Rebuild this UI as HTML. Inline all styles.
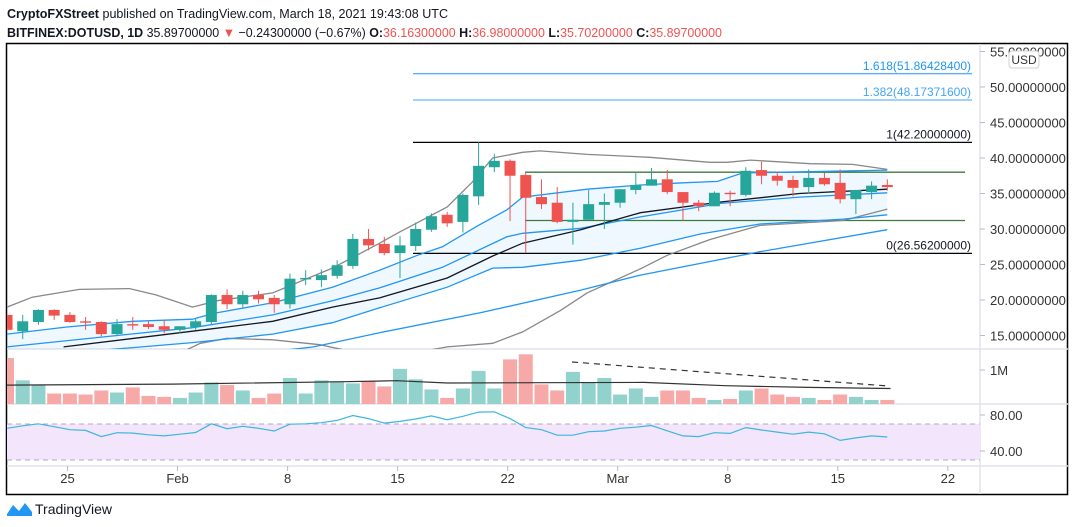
<!DOCTYPE html>
<html><head><meta charset="utf-8"><title>DOTUSD chart</title>
<style>
html,body{margin:0;padding:0;background:#fff;}
svg{display:block;font-family:"Liberation Sans",sans-serif;}
</style></head>
<body>
<svg id="chart" width="1075" height="527" viewBox="0 0 1075 527">
<defs>
<clipPath id="mainClip"><rect x="7" y="44" width="973" height="305"/></clipPath>
<clipPath id="volClip"><rect x="7" y="349" width="973" height="55"/></clipPath>
</defs>
<text x="7" y="18" font-size="13" textLength="441" lengthAdjust="spacingAndGlyphs" fill="#131722"><tspan font-weight="bold">CryptoFXStreet</tspan> published on TradingView.com, March 18, 2021 19:43:08 UTC</text>
<text x="7" y="37" font-size="13" textLength="715" lengthAdjust="spacingAndGlyphs" fill="#131722"><tspan font-weight="bold">BITFINEX:DOTUSD, 1D</tspan> 35.89700000 <tspan fill="#ef5350">▼</tspan> −0.24300000 (−0.67%) <tspan font-weight="bold">O:</tspan><tspan fill="#ef5350">36.16300000</tspan> <tspan font-weight="bold">H:</tspan><tspan fill="#ef5350">36.98000000</tspan> <tspan font-weight="bold">L:</tspan><tspan fill="#ef5350">35.70200000</tspan> <tspan font-weight="bold">C:</tspan><tspan fill="#ef5350">35.89700000</tspan></text>
<rect x="6.5" y="43.5" width="1061" height="451" fill="none" stroke="#000" stroke-width="1.5"/>
<g id="grid"></g>
<g id="main" clip-path="url(#mainClip)"></g>
<g id="vol" clip-path="url(#volClip)"></g>
<g id="rsi"></g>
<g id="axes"></g>
<g>
<path d="M7 514 L13 505 L19 511 L25 503 L32 512 L32 516 L7 516 Z" fill="#2196f3"/>
<text x="35" y="514" font-size="14" fill="#131722">TradingView</text>
</g>
</svg>
<script>
// ---- data ----
const opens  = [17.9,15.6,16.9,18.6,17.9,17.0,16.9,15.2,16.6,16.6,16.3,15.8,16.2,16.9,20.7,19.4,20.7,20.3,19.4,22.9,22.8,23.4,24.8,28.6,27.9,26.6,27.6,29.9,32.0,31.0,34.6,38.7,39.6,37.6,34.5,33.7,31.0,31.3,33.4,33.7,35.5,36.1,37.0,35.2,33.7,33.2,35.1,34.8,38.3,37.5,36.9,35.9,37.2,36.5,34.2,35.2,36.2];
const highs  = [18.3,17.9,18.7,18.7,18.3,17.6,17.0,17.3,17.6,17.0,17.2,16.3,17.4,20.8,21.5,21.3,21.3,20.7,23.7,24.2,24.3,25.6,29.3,30.0,28.9,29.0,30.9,32.2,32.4,35.0,42.2,40.6,39.8,38.0,37.0,35.9,33.7,35.5,35.0,35.6,38.0,38.6,38.3,35.2,34.1,35.3,35.4,38.7,39.5,38.1,37.5,38.4,37.9,38.4,35.5,36.7,37.0];
const lows   = [15.5,14.5,16.5,17.2,16.8,15.8,14.9,14.9,15.8,15.9,15.3,15.3,15.8,16.6,18.7,18.9,19.5,18.2,18.8,22.1,21.8,23.0,24.4,27.0,26.3,23.1,26.9,29.6,30.3,29.5,33.4,38.0,31.1,26.6,32.8,30.8,27.8,31.3,30.0,33.0,34.9,36.1,34.9,31.2,32.5,33.2,33.2,34.6,36.3,36.1,34.6,35.0,36.1,33.6,32.1,34.2,35.4];
const closes = [15.8,17.0,18.6,17.8,16.9,16.8,15.2,16.6,16.4,16.2,15.8,16.3,17.0,20.7,19.4,20.7,20.1,19.4,23.0,23.1,23.5,24.9,28.6,27.7,26.6,27.7,30.0,31.8,30.8,34.8,38.9,39.6,37.5,34.4,33.5,31.0,31.3,33.5,33.8,35.6,36.2,37.0,35.2,33.7,33.2,35.1,34.9,38.2,37.5,36.8,35.8,37.2,36.3,34.2,35.5,36.1,35.9];
const volumes = [1.36,0.70,0.55,0.31,0.31,0.28,0.40,0.34,0.49,0.24,0.21,0.18,0.34,0.64,0.56,0.40,0.18,0.31,0.77,0.31,0.70,0.67,0.61,0.67,0.52,1.04,0.73,0.43,0.18,0.46,0.98,0.46,1.32,1.47,0.58,0.40,0.95,0.64,0.77,0.28,0.46,0.21,0.40,0.40,0.18,0.12,0.15,0.40,0.46,0.28,0.21,0.18,0.12,0.28,0.21,0.12,0.12];
const rsiValues = [65.2,68,70.2,67,63.7,62.9,56.0,60.3,59.9,58,56.8,58.7,60.6,70.2,64.8,67.5,65.2,62.2,69.8,70.2,71.4,74.0,79.4,76.0,71.0,72.9,75.6,79.0,74.8,78.6,83.2,83.6,76.0,66.0,63.7,57.6,57.6,61.4,62.2,65.2,66.4,68.3,62.5,56.8,56.0,60.3,59.5,66.0,63.3,61.0,58.7,61.0,59.1,51.8,54.5,56.8,55.6];
// indicator lines: [barIndex, value]
const bbUpper = [[0,19.0],[1.6,20.4],[4.6,21.5],[7.8,21.6],[9.5,20.7],[11.8,19.0],[13.4,19.9],[16.9,21.0],[20.7,24.5],[23.7,28.0],[25,29.6],[28,33.1],[29.6,36.6],[30.9,40.0],[32.8,40.8],[33.9,41.0],[36.9,40.5],[40.9,40.1],[44.7,39.4],[45.8,39.4],[47.3,39.7],[51.1,39.2],[53.8,39.1],[56,38.4]];
const bbLower = [[10,11.5],[12.3,13.9],[14,14.6],[16.9,14.4],[19.9,13.7],[21.8,12.8],[26,12.6],[28,13.4],[30.9,13.9],[32.8,15.5],[35.2,18.5],[36.9,21.0],[40.3,24.4],[42,26.3],[44.7,28.5],[47.9,30.5],[53.2,31.2],[56,32.8]];
const bandUpper = [[0,15.2],[3.8,16.2],[8,17.0],[11.8,17.3],[13.1,18.1],[16.9,19.6],[20.7,21.8],[23.7,24.2],[26.1,26.3],[27.7,27.5],[29.9,30.4],[31.8,32.7],[32.8,34.5],[36.9,35.6],[40.3,36.2],[43,36.5],[45.2,36.7],[46.8,37.9],[49.4,38.0],[56,38.3]];
const bandMid = [[0,13.4],[11.8,16.1],[16.9,17.9],[20.7,19.9],[23.7,21.7],[27.7,24.6],[31.8,28.9],[32.8,29.4],[36.5,30.1],[40.3,31.7],[45.4,33.6],[50.4,34.5],[56,35.1]];
const maBlack = [[3.6,13.4],[11.8,15.6],[16.9,17.0],[20.7,19.0],[23.7,20.3],[28,23.1],[30.9,26.2],[32.8,28.0],[36.5,29.9],[40.3,32.3],[45.4,33.8],[50.4,35.0],[56,35.6]];
const bandLower = [[0,11.8],[11.8,14.0],[16.9,15.2],[20.7,16.8],[23.7,18.9],[28,21.8],[30.9,24.5],[32.8,24.6],[36.5,25.6],[40.3,27.3],[44.1,29.3],[47.9,30.7],[53.2,31.4],[56,32.0]];
const maLong = [[12,11.5],[19.5,13.4],[23.7,15.4],[30.1,18.2],[36.5,21.4],[40.3,23.5],[47.9,26.8],[56,29.9]];
const volMA = [[0,0.56],[10.5,0.59],[21.5,0.66],[24.8,0.69],[28,0.62],[33.9,0.63],[40.5,0.64],[45.7,0.54],[51,0.49],[56.2,0.46]];
const priceTicks = [55,50,45,40,35,30,25,20,15];
const timeTicks = [["25",3.85],["Feb",10.85],["8",17.85],["15",24.85],["22",31.85],["Mar",38.85],["8",45.85],["15",52.85],["22",59.85]];
const fibLevels = [[1.618,51.86428400,"#2196f3"],[1.382,48.17371600,"#42a5f5"],[1,42.20000000,"#000"],[0,26.56200000,"#000"]];
const rangeLines = [38.0,31.2];

// ---- axis functions ----
const X = i => 7 + i*15.72;
const Y = p => 158 - (p-40)*7.1;
const VY = v => 404 - v*33.8;
const RY = r => 415 + (80-r)*0.9;
const NS = "http://www.w3.org/2000/svg";
function mk(tag, attrs, parent){
  const e = document.createElementNS(NS, tag);
  for (const k in attrs) e.setAttribute(k, attrs[k]);
  parent.appendChild(e); return e;
}
const gMain = document.getElementById('main');
const gVol = document.getElementById('vol');
const gRsi = document.getElementById('rsi');
const gAx = document.getElementById('axes');
const gGrid = document.getElementById('grid');
const ptsStr = (arr, fy) => arr.map(d => X(d[0]).toFixed(1)+','+fy(d[1]).toFixed(1)).join(' ');

// separators
[349,404,466].forEach(y => {
  const l = mk('line',{x1:7,x2:1068,y1:y,y2:y,stroke:'#e0e3eb','stroke-width':1.5},gGrid);
  
  
});
const vsep = mk('line',{x1:980,x2:980,y1:44,y2:494,stroke:'#e0e3eb','stroke-width':1.5},gGrid);



// band fill
const fillPts = ptsStr(bandUpper, Y) + ' ' + bandLower.slice().reverse().map(d => X(d[0]).toFixed(1)+','+Y(d[1]).toFixed(1)).join(' ');
const bf = mk('polygon',{points:fillPts,fill:'#2196f3','fill-opacity':0.07},gMain);



// fib lines
fibLevels.forEach(f => {
  const y = Y(f[1]);
  const l = mk('line',{x1:413,x2:972,y1:y,y2:y,stroke:f[2],'stroke-width':f[0]>1?1:1.3},gMain);
  
  
  const t = mk('text',{x:971,y:y-4,'font-size':12,'text-anchor':'end',fill:f[2]==='#000'?'#131722':f[2]},gMain);
  t.textContent = f[0] + '(' + f[1].toFixed(8) + ')';
  
  
});
rangeLines.forEach(p => {
  const l = mk('line',{x1:525,x2:965,y1:Y(p),y2:Y(p),stroke:'#3d7a3d','stroke-width':1.3},gMain);
  
  
});

// indicator lines
const lineDefs = [[bbUpper,'#888','bb-upper'],[bbLower,'#888','bb-lower'],[bandUpper,'#2196f3','band-upper'],[bandMid,'#2196f3','band-middle'],[maBlack,'#131722','moving-average'],[bandLower,'#2196f3','band-lower'],[maLong,'#2196f3','long-moving-average']];
lineDefs.forEach(d => {
  const l = mk('polyline',{points:ptsStr(d[0],Y),fill:'none',stroke:d[1],'stroke-width':1.3},gMain);
  
  
});

// candles
for (let i=0;i<opens.length;i++){
  const up = closes[i] >= opens[i];
  const c = up ? '#26a69a' : '#ef5350';
  const x = X(i);
  const g = mk('g',{},gMain);
  
  
  mk('line',{x1:x,x2:x,y1:Y(highs[i]),y2:Y(lows[i]),stroke:c,'stroke-width':1},g);
  const top = Y(Math.max(opens[i],closes[i])), bot = Y(Math.min(opens[i],closes[i]));
  mk('rect',{x:x-5.5,y:top,width:11,height:Math.max(1,bot-top),fill:c},g);
  const vb = mk('rect',{x:x-7,y:VY(volumes[i]),width:14,height:404-VY(volumes[i]),fill:up?'#92d2cc':'#f7a9a7'},gVol);
  
  
}
const vma = mk('polyline',{points:ptsStr(volMA,VY),fill:'none',stroke:'#333','stroke-width':1.2},gVol);


const vtr = mk('line',{x1:572,y1:362,x2:888,y2:386,stroke:'#333','stroke-width':1.2,'stroke-dasharray':'6,5'},gVol);



// RSI
const rb = mk('rect',{x:7,y:RY(70),width:973,height:RY(30)-RY(70),fill:'#f3e5fc'},gRsi);


[70,30].forEach(v => {
  const l = mk('line',{x1:7,x2:980,y1:RY(v),y2:RY(v),stroke:'#b5a8bd','stroke-dasharray':'5,4'},gRsi);
  
  
});
const rl = mk('polyline',{points:rsiValues.map((v,i)=>X(i).toFixed(1)+','+RY(v).toFixed(1)).join(' '),fill:'none',stroke:'#3bb7e0','stroke-width':1.2},gRsi);



// axes
priceTicks.forEach(p => {
  const y = Y(p);
  mk('line',{x1:980,x2:985,y1:y,y2:y,stroke:'#bbb'},gAx);
  const t = mk('text',{x:990,y:y+5,'font-size':13,fill:'#333'},gAx);
  t.textContent = p.toFixed(8);
  
  
});
const usd = mk('rect',{x:1009,y:51,width:30,height:17,rx:3,fill:'#fff',stroke:'#d0d0d0'},gAx);


const ut = mk('text',{x:1024,y:64,'font-size':12,'text-anchor':'middle',fill:'#333'},gAx);
ut.textContent = 'USD';
[[370,'1M'],[415,'80.00'],[451,'40.00']].forEach(d => {
  mk('line',{x1:980,x2:985,y1:d[0],y2:d[0],stroke:'#bbb'},gAx);
  const t = mk('text',{x:990,y:d[0]+5,'font-size':13,fill:'#333'},gAx);
  t.textContent = d[1];
  
  
});
timeTicks.forEach(d => {
  const x = X(d[1]);
  mk('line',{x1:x,x2:x,y1:466,y2:471,stroke:'#bbb'},gAx);
  const t = mk('text',{x:x,y:483,'font-size':13,'text-anchor':'middle',fill:'#333'},gAx);
  t.textContent = d[0];
  
  
});
</script>
</body></html>
